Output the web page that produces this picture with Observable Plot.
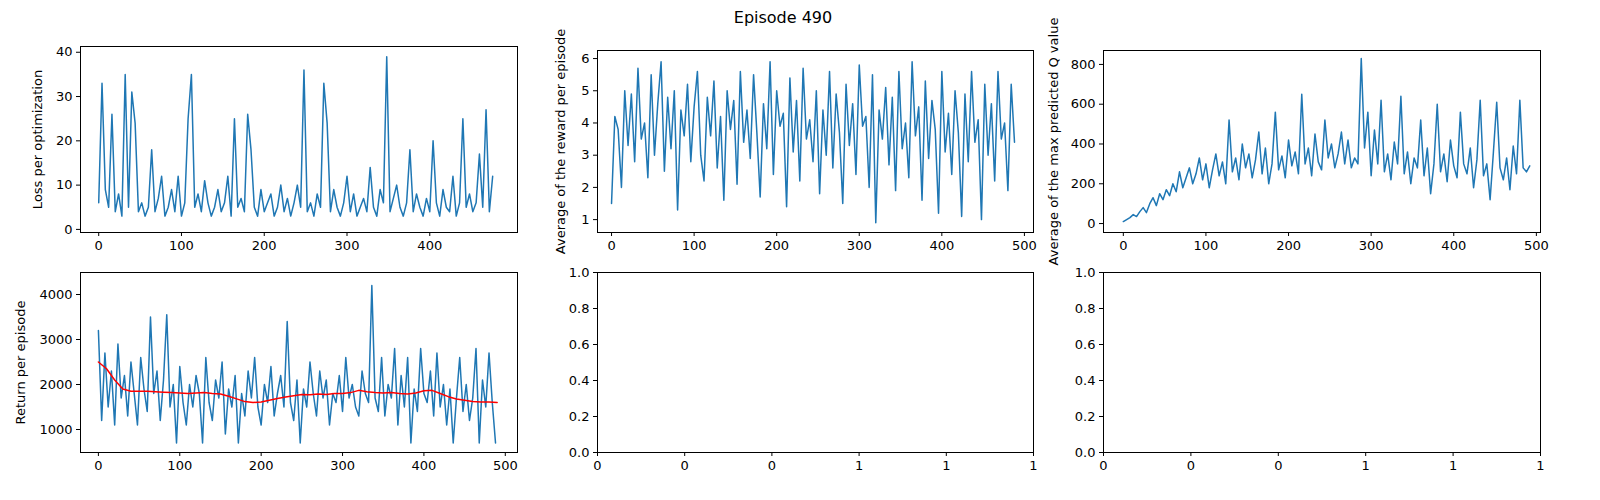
<!DOCTYPE html>
<html><head><meta charset="utf-8">
<script src="https://cdn.jsdelivr.net/npm/d3@7"></script>
<script src="https://cdn.jsdelivr.net/npm/@observablehq/plot@0.6"></script>
<style>
body{margin:0;background:#fff;font-family:"DejaVu Sans",sans-serif}
#wrap{position:relative;width:1600px;height:500px}
.p{position:absolute}
#title{position:absolute;left:0;width:1566px;text-align:center;top:8px;font-size:16px}
</style></head><body>
<div id="wrap"><div id="title">Episode 490</div></div>
<script>
const step = 4;
const loss = [6,33,9,5,26,4,8,3,35,5,31,24,4,6,3,5,18,4,7,12,3,5,9,4,12,3,6,25,35,5,8,4,11,6,3,5,9,4,6,12,3,25,5,7,4,26,18,5,3,9,4,6,8,3,5,10,4,7,3,6,10,5,36,4,6,3,8,5,33,24,4,9,5,3,6,12,4,8,3,5,7,4,14,5,3,9,6,39,4,7,10,5,3,6,18,4,8,5,3,7,4,20,6,3,9,5,4,12,3,6,25,5,8,4,6,17,5,27,4,12];
const reward = [1.5,4.2,3.8,2.0,5.0,3.3,4.9,2.8,5.7,3.5,4.0,2.3,5.5,3.0,4.6,5.9,2.5,4.8,3.2,5.0,1.3,4.4,3.6,5.2,2.8,4.5,5.6,3.0,2.2,4.8,3.6,5.3,2.6,4.2,1.6,5.0,3.8,4.7,2.1,5.6,3.4,4.4,2.9,5.5,3.7,1.7,4.6,3.2,5.9,2.4,5.0,3.9,4.3,1.4,5.4,3.1,4.7,2.2,5.7,3.5,4.1,2.8,5.0,1.8,4.4,3.0,5.6,2.6,4.9,3.7,1.5,5.2,3.3,4.6,2.4,5.8,3.9,4.2,2.0,5.5,0.9,4.4,3.5,5.1,2.7,4.8,1.9,5.6,3.2,4.0,2.3,5.9,3.6,4.5,1.6,5.3,2.9,4.7,3.8,1.2,5.6,3.1,4.3,2.4,5.0,3.7,1.1,4.9,2.8,5.6,3.4,4.1,1.0,5.2,3.0,4.6,2.2,5.6,3.5,4.0,1.9,5.2,3.4];
const qmax = [10,20,30,45,35,60,80,55,100,130,90,150,120,170,140,200,160,260,180,230,280,200,250,330,220,300,180,270,350,240,310,200,520,260,330,220,400,280,350,230,320,460,250,380,200,300,560,270,340,230,420,290,360,250,650,300,380,240,450,310,270,520,330,400,280,350,460,300,420,280,330,300,830,380,560,240,470,300,620,260,350,220,410,300,640,250,360,200,330,280,520,240,380,150,300,600,260,350,210,420,290,230,560,300,250,380,180,320,620,240,300,120,360,610,280,220,330,170,390,250,620,280,260,290];
const ret = [3200,1200,2700,1500,2300,1100,2900,1700,2200,1300,2500,1800,1100,2600,1900,1400,3500,1800,2300,1200,2100,3550,1500,2000,700,2400,1600,1100,2000,1500,2200,1800,700,2600,1600,1200,2100,1700,2500,900,1900,1500,2200,700,1800,1300,2300,1700,2600,1500,1100,2000,1600,2400,1300,1800,2200,1500,3400,1600,1200,2100,700,1900,1500,2500,1800,1300,2300,1700,2100,1100,1800,1600,2200,1400,2600,1700,2000,1500,1300,2300,1800,1600,4200,1700,1400,2600,1300,2000,1700,2800,1100,2200,1500,2600,700,1900,1400,2800,1800,1600,2300,1300,2700,1500,2000,1100,1900,700,1700,2600,1400,2000,1200,1700,2800,700,2100,1500,2700,1600,700];
const maStep = 10;
const retMA = [2500,2350,2100,1900,1850,1850,1850,1840,1830,1820,1810,1800,1810,1820,1800,1790,1740,1680,1620,1600,1610,1650,1690,1720,1750,1780,1770,1790,1780,1800,1800,1820,1870,1840,1820,1810,1820,1800,1790,1810,1860,1870,1800,1730,1680,1650,1620,1610,1610,1600];

const toPts = (arr, s) => arr.map((v, i) => ({x: i * s, y: v}));
const wrap = document.getElementById("wrap");
const ML = 100, MT = 20, MR = 15, MB = 32;
const intf = d3.format("d");

function panel(fx, fy, fw, fh, xdom, ydom, xticks, yticks, label, lo, marks, yfmt) {
  const svg = Plot.plot({
    width: fw + ML + MR, height: fh + MT + MB,
    marginLeft: ML, marginTop: MT, marginRight: MR, marginBottom: MB,
    style: {fontFamily: "DejaVu Sans, sans-serif", fontSize: "13px", color: "#000", background: "transparent", overflow: "visible"},
    x: {domain: xdom, ticks: xticks, tickSize: 4, tickPadding: 4, label: null, tickFormat: intf},
    y: {domain: ydom, ticks: yticks, tickSize: 4, tickPadding: 4, label: label, labelAnchor: "center", labelArrow: "none", labelOffset: lo, tickFormat: yfmt || intf},
    marks: [...marks, Plot.frame({stroke: "#000", strokeWidth: 1})]
  });
  const d = document.createElement("div");
  d.className = "p";
  d.style.left = (fx - ML) + "px";
  d.style.top = (fy - MT) + "px";
  d.appendChild(svg);
  wrap.appendChild(d);
}
const blue = "#1f77b4";
panel(80, 46, 437, 186, [-22, 506], [-0.7, 41.3], [0,100,200,300,400], [0,10,20,30,40], "Loss per optimization", 48,
  [Plot.line(toPts(loss, step), {x: "x", y: "y", stroke: blue, strokeWidth: 1.5})]);
panel(597, 50, 436, 182, [-17, 511], [0.6, 6.25], [0,100,200,300,400,500], [1,2,3,4,5,6], "Average of the reward per episode", 42,
  [Plot.line(toPts(reward, step), {x: "x", y: "y", stroke: blue, strokeWidth: 1.5})]);
panel(1103, 50, 437, 182, [-24, 505], [-45, 870], [0,100,200,300,400,500], [0,200,400,600,800], "Average of the max predicted Q value", 55,
  [Plot.line(toPts(qmax, step), {x: "x", y: "y", stroke: blue, strokeWidth: 1.5})]);
panel(80, 272, 437, 180, [-22, 515], [489, 4489], [0,100,200,300,400,500], [1000,2000,3000,4000], "Return per episode", 65,
  [Plot.line(toPts(ret, step), {x: "x", y: "y", stroke: blue, strokeWidth: 1.5}),
   Plot.line(toPts(retMA, maStep), {x: "x", y: "y", stroke: "red", strokeWidth: 1.5})]);
const unit = [0,0.2,0.4,0.6,0.8,1.0];
panel(597, 272, 436, 180, [0,1], [0,1], unit, unit, null, 40, [], d3.format(".1f"));
panel(1103, 272, 437, 180, [0,1], [0,1], unit, unit, null, 40, [], d3.format(".1f"));
</script>
</body></html>
